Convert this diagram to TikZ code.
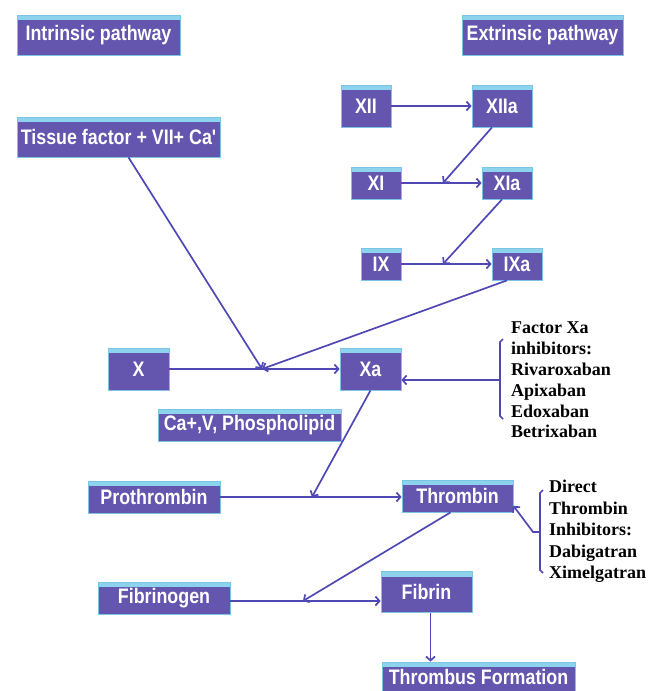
\documentclass[tikz,border=0pt]{standalone}
\usepackage{fontspec}
\usetikzlibrary{arrows.meta}
\newfontfamily\boxfont[FakeStretch=0.85]{Liberation Sans Bold}
\newfontfamily\inhfont{Liberation Serif Bold}
\definecolor{boxfill}{HTML}{6455AE}
\definecolor{boxtop}{HTML}{8ED3EE}
\definecolor{boxedge}{HTML}{7CC3E4}
\definecolor{arrowblue}{HTML}{4F48B5}
\tikzset{
  factor/.style={draw=boxedge, line width=0.8pt, fill=boxfill, text=white, inner sep=0pt,
    font=\boxfont\fontsize{21}{24}\selectfont,
    path picture={\fill[boxtop] (path picture bounding box.north west) rectangle ([yshift=-5pt]path picture bounding box.north east);}},
  flow/.style={-{Straight Barb[length=4pt, width=9pt]}, draw=arrowblue, line width=1.7pt},
  bracket/.style={draw=arrowblue, line width=1.7pt},
  inhib/.style={align=left, inner sep=0pt, anchor=north west, font=\inhfont\fontsize{18}{20.8}\selectfont}
}
\begin{document}
\begin{tikzpicture}[x=1pt, y=-1pt]
    \useasboundingbox (0,0) rectangle (651,691);

    % Pathway titles
    \node[factor, minimum width=163pt, minimum height=40pt] (intr) at (98.5,35) {Intrinsic pathway};
    \node[factor, minimum width=161pt, minimum height=40pt] (extr) at (542.5,35) {Extrinsic pathway};
    \node[factor, minimum width=203pt, minimum height=40pt] (tf) at (118.5,137) {Tissue factor + VII+ Ca'};

    % Contact factors
    \node[factor, minimum width=50pt, minimum height=42pt] (xii) at (366,106) {XII};
    \node[factor, minimum width=60pt, minimum height=42pt] (xiia) at (502,106) {XIIa};
    \node[factor, minimum width=50pt, minimum height=32pt] (xi) at (376,183) {XI};
    \node[factor, minimum width=50pt, minimum height=32pt] (xia) at (507,183) {XIa};
    \node[factor, minimum width=40pt, minimum height=32pt] (ix) at (381,264) {IX};
    \node[factor, minimum width=50pt, minimum height=32pt] (ixa) at (517,264) {IXa};

    % Common pathway
    \node[factor, minimum width=61pt, minimum height=42pt] (x) at (138.5,369) {X};
    \node[factor, minimum width=61pt, minimum height=42pt] (xa) at (370.5,369) {Xa};
    \node[factor, minimum width=183pt, minimum height=32pt] (ca) at (249.5,425) {Ca+,V, Phospholipid};
    \node[factor, minimum width=132pt, minimum height=32pt] (pro) at (154,497) {Prothrombin};
    \node[factor, minimum width=111pt, minimum height=32pt] (thr) at (457.5,496) {Thrombin};
    \node[factor, minimum width=132pt, minimum height=32pt] (fgn) at (164,598) {Fibrinogen};
    \node[factor, minimum width=91pt, minimum height=41pt] (fib) at (426.5,592) {Fibrin};
    \node[factor, minimum width=193pt, minimum height=30pt] (thf) at (478.5,677) {Thrombus Formation};

    % Inhibitors
    \node[inhib] (xainh) at (511,322) {Factor Xa\\inhibitors:\\Rivaroxaban\\Apixaban\\Edoxaban\\Betrixaban};
    \node[inhib, font=\inhfont\fontsize{18}{21.5}\selectfont] (thrinh) at (549,480) {Direct\\Thrombin\\Inhibitors:\\Dabigatran\\Ximelgatran};

    % Meeting points on the arrows
    \coordinate (m1) at (443,183);
    \coordinate (m2) at (443,264);
    \coordinate (m3) at (262,369);
    \coordinate (m4) at (312,497);
    \coordinate (m5) at (303,601);
    \coordinate (b1) at (500,380);
    \coordinate (b2) at (540,532);

    % Cascade
    \draw[flow] (xii) -- (xiia);
    \draw[flow] (xi) -- (xia);
    \draw[flow] (ix) -- (ixa);
    \draw[flow] (xiia.south) ++(-10,0) -- (m1);
    \draw[flow] (xia.south) ++(-5,0) -- (m2);
    \draw[flow] (ixa.south) ++(-10,0) -- (m3);
    \draw[flow] (tf.south) ++(10,0) -- (m3);
    \draw[flow] (x) -- (xa);
    \draw[flow] (xa.south) -- (m4);
    \draw[flow] (pro) -- (pro -| thr.west);
    \draw[flow] (thr.south) ++(-7,0) -- (m5);
    \draw[flow] (fgn.east) ++(0,3) -- ([yshift=-3pt]fgn.east -| fib.west);
    \draw[flow] ([xshift=4pt]fib.south) -- ([xshift=4pt]fib.south |- thf.north);

    % Inhibitor brackets
    \draw[bracket] (503,339) -- (500,342) -- (500,416) -- (503,419);
    \draw[flow] (b1) -- (xa.east |- b1);
    \draw[bracket] (543,490) -- (540,493) -- (540,570) -- (543,573);
    \draw[flow] (b2) -- ++(-7,0) -- (thr.-10);
\end{tikzpicture}
\end{document}
